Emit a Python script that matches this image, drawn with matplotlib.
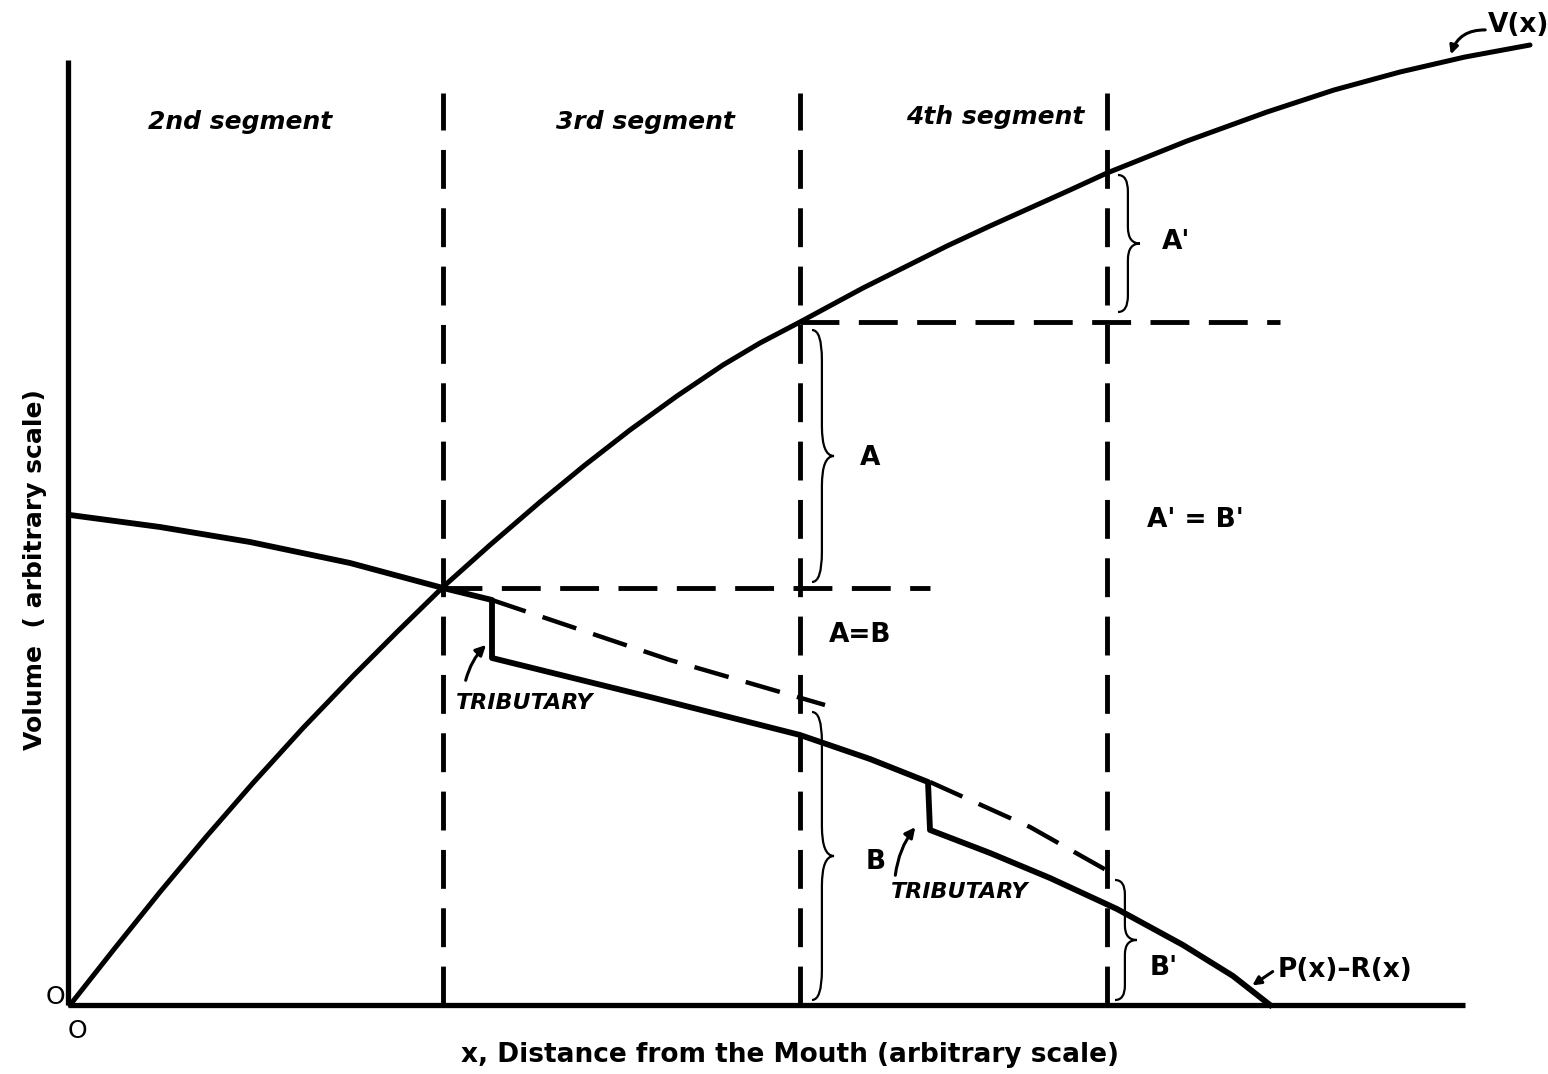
import matplotlib
matplotlib.use("Agg")
import matplotlib.pyplot as plt
from matplotlib.path import Path
from matplotlib.patches import PathPatch

# V(x): volume curve, rising from the origin
v_x = [0, 45, 90, 136, 183, 233, 283, 328, 373, 420, 470, 515, 560, 607, 653, 690,
       730, 793, 835, 877, 920, 960, 1000, 1037, 1117, 1197, 1264, 1330, 1395, 1460]
v_y = [0, 57, 113, 168, 222, 277, 329, 374, 418, 460, 503, 540, 575, 609, 640, 662,
       683, 717, 738, 759, 779, 797, 815, 832, 864, 893, 915, 933, 948, 960]

# P(x)-R(x): falls with a step at each tributary
pr_x = [0, 90, 180, 280, 373, 422, 422, 580, 730, 800, 858, 860, 920, 980, 1047,
        1113, 1163, 1200]
pr_y = [490, 478, 463, 442, 417, 405, 347, 308, 270, 246, 223, 175, 152, 127, 96,
        60, 29, 0]

# curve continued as if no tributary joined
ext1_x = [422, 600, 755]
ext1_y = [405, 345, 300]
ext2_x = [860, 960, 1045]
ext2_y = [223, 178, 130]

# segment boundaries and labels
bounds = [373, 730, 1037]
seg_names = ["2nd segment", "3rd segment", "4th segment"]
seg_x = [170, 575, 925]
seg_y = [883, 883, 888]

# level carried across from V(x) at the start of a segment
lvl_y = [417, 683]
lvl_x0 = [373, 730]
lvl_x1 = [860, 1210]

# braces: (x, bottom, top, label, label x, label y)
braces = [
    (742, 423, 675, "A", 790, 547),
    (1048, 693, 830, "A'", 1092, 763),
    (742, 5, 293, "B", 796, 143),
    (1045, 5, 125, "B'", 1080, 37),
]


def brace(ax, x0, y0, y1, w=22, lw=1.6):
    h = y1 - y0
    m = (y0 + y1) / 2
    q = min(h * 0.12, 30)
    xm = x0 + w * 0.45
    verts = [
        (x0, y1), (xm, y1), (xm, y1 - q),
        (xm, m + q),
        (xm, m), (x0 + w, m),
        (xm, m), (xm, m - q),
        (xm, y0 + q),
        (xm, y0), (x0, y0),
    ]
    codes = [Path.MOVETO, Path.CURVE3, Path.CURVE3, Path.LINETO,
             Path.CURVE3, Path.CURVE3, Path.CURVE3, Path.CURVE3,
             Path.LINETO, Path.CURVE3, Path.CURVE3]
    ax.add_patch(PathPatch(Path(verts, codes), fill=False, lw=lw, color="black"))


fig = plt.figure(figsize=(15.48, 10.74), dpi=100)
ax = fig.add_axes([0, 0, 1, 1])
ax.set_xlim(-70, 1478)
ax.set_ylim(-69, 1005)
ax.axis("off")

txt = dict(fontfamily="DejaVu Sans", fontweight="bold", color="black")

# axes
ax.plot([-2, -2], [0, 945], color="black", lw=3.8, solid_capstyle="butt")
ax.plot([-2, 1395], [0, 0], color="black", lw=3.8, solid_capstyle="butt")

# segment boundaries
for b in bounds:
    ax.plot([b, b], [0, 912], color="black", lw=3.5, dashes=(8, 4))

for x0, x1, y in zip(lvl_x0, lvl_x1, lvl_y):
    ax.plot([x0, x1], [y, y], color="black", lw=3.5, dashes=(8, 4))

ax.plot(v_x, v_y, color="black", lw=3.6, solid_joinstyle="round", solid_capstyle="round")
ax.plot(pr_x, pr_y, color="black", lw=4.2, solid_joinstyle="round")
ax.plot(ext1_x, ext1_y, color="black", lw=3.2, dashes=(8, 4))
ax.plot(ext2_x, ext2_y, color="black", lw=3.2, dashes=(8, 4))

for name, x, y in zip(seg_names, seg_x, seg_y):
    ax.text(x, y, name, ha="center", va="center", fontsize=18, style="italic", **txt)

for x0, y0, y1, lab, lx, ly in braces:
    brace(ax, x0, y0, y1)
    ax.text(lx, ly, lab, ha="left", va="center", fontsize=19, **txt)

ax.text(1125, 485, "A' = B'", ha="center", va="center", fontsize=19, **txt)
ax.text(790, 370, "A=B", ha="center", va="center", fontsize=19, **txt)

# tributary notes
for tx, ty, ax0, ay0, ax1, ay1 in [(455, 302, 395, 322, 418, 362),
                                   (890, 113, 825, 127, 847, 180)]:
    ax.text(tx, ty, "TRIBUTARY", ha="center", va="center", fontsize=16,
            style="italic", **txt)
    ax.annotate("", xy=(ax1, ay1), xytext=(ax0, ay0),
                arrowprops=dict(arrowstyle="-|>,head_length=0.6,head_width=0.3",
                                lw=2.2, color="black",
                                connectionstyle="arc3,rad=-0.15"))

# curve names
ax.text(1418, 980, "V(x)", ha="left", va="center", fontsize=19, **txt)
ax.annotate("", xy=(1380, 948), xytext=(1418, 975),
            arrowprops=dict(arrowstyle="-|>,head_length=0.5,head_width=0.25",
                            lw=2.2, color="black",
                            connectionstyle="arc3,rad=0.4"))
ax.text(1208, 35, "P(x)\u2013R(x)", ha="left", va="center", fontsize=19, **txt)
ax.annotate("", xy=(1180, 18), xytext=(1205, 35),
            arrowprops=dict(arrowstyle="-|>,head_length=0.5,head_width=0.25",
                            lw=2.2, color="black"))

# origin marks and axis titles
ax.text(-15, 8, "O", ha="center", va="center", fontsize=18,
        fontfamily="DejaVu Sans", color="black")
ax.text(7, -26, "O", ha="center", va="center", fontsize=18,
        fontfamily="DejaVu Sans", color="black")
ax.text(-35, 435, "Volume  ( arbitrary scale)", rotation=90, ha="center",
        va="center", fontsize=18, **txt)
ax.text(720, -50, "x, Distance from the Mouth (arbitrary scale)", ha="center",
        va="center", fontsize=19, **txt)

fig.savefig("out.png", dpi=100)
